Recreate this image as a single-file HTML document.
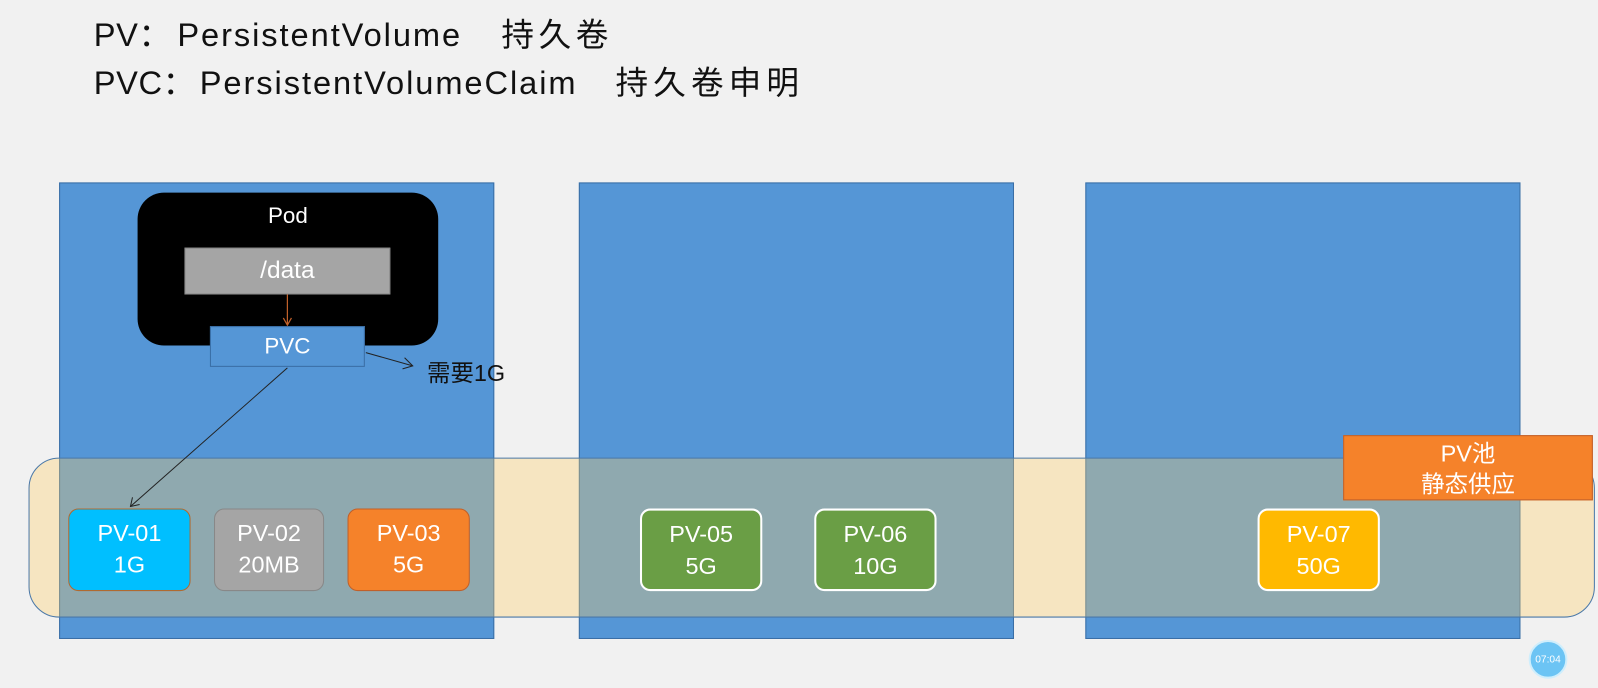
<!DOCTYPE html>
<html><head><meta charset="utf-8"><style>
body{margin:0;width:1598px;height:688px;background:#f1f1f1;position:relative;overflow:hidden;font-family:"Liberation Sans","Noto Sans CJK SC",sans-serif}
#w{position:absolute;left:0;top:0;width:1568px;height:675px;transform:scale(1.0191);transform-origin:0 0}
.a{position:absolute;box-sizing:border-box}
.blue{background:#5596d6;border:1px solid #3a6ea5;top:179px;height:448px;width:427px}
.pv{top:499px;height:81px;border-radius:10px;color:#fff;font-size:23px;line-height:31px;text-align:center;padding-top:8px}
.t{position:absolute;font-size:31px;color:#111;white-space:pre}
.h{position:absolute;font-size:32px;line-height:40px;height:40px;color:#111;white-space:pre;letter-spacing:0.6px}
</style></head><body><div id="w">
<div class="h" style="left:92px;top:14px">PV：</div>
<div class="h" style="left:174px;top:14px;letter-spacing:1.9px">PersistentVolume</div>
<div class="h" style="left:492px;top:14px;letter-spacing:4.5px">持久卷</div>
<div class="h" style="left:92px;top:61px">PVC：</div>
<div class="h" style="left:196px;top:61px;letter-spacing:1.9px">PersistentVolumeClaim</div>
<div class="h" style="left:604px;top:61px;letter-spacing:5px">持久卷申明</div>
<div class="a blue" style="left:58px"></div>
<div class="a blue" style="left:568px"></div>
<div class="a blue" style="left:1065px"></div>
<div class="a" style="left:135px;top:189px;width:295px;height:150px;background:#000;border-radius:26px;color:#fff;font-size:22px;text-align:center;padding-top:10px">Pod</div>
<div class="a" style="left:181px;top:243px;width:202px;height:46px;background:#a5a5a5;border:1px solid #888;color:#fff;font-size:24px;text-align:center;line-height:44px">/data</div>
<div class="a" style="left:206px;top:320px;width:152px;height:40px;background:#5596d6;border:1px solid #3a6ea5;color:#fff;font-size:22px;text-align:center;line-height:38px">PVC</div>
<div class="a" style="left:28px;top:449px;width:1537px;height:157px;border-radius:30px;background:rgba(254,206,100,0.34);border:1.5px solid #4a78a8"></div>
<div class="a pv" style="left:67px;width:120px;background:#00bfff;border:1.5px solid #b06a30">PV-01<br>1G</div>
<div class="a pv" style="left:210px;width:108px;background:#a5a5a5;border:1.5px solid #888">PV-02<br>20MB</div>
<div class="a pv" style="left:341px;width:120px;background:#f5822a;border:1.5px solid #c0602a">PV-03<br>5G</div>
<div class="a pv" style="left:628px;width:120px;background:#6a9e45;border:2px solid #fff">PV-05<br>5G</div>
<div class="a pv" style="left:799px;width:120px;background:#6a9e45;border:2px solid #fff">PV-06<br>10G</div>
<div class="a pv" style="left:1234px;width:120px;background:#ffb900;border:2px solid #fff">PV-07<br>50G</div>
<div class="a" style="left:1318px;top:427px;width:245px;height:64px;background:#f5822a;border:1px solid #c0602a;color:#fff;font-size:23px;line-height:30px;text-align:center;padding-top:2px">PV池<br>静态供应</div>
<div class="t" style="left:419px;top:347px;font-size:23px">需要1G</div>
<div class="a" style="left:1500px;top:628px;width:38px;height:38px;border-radius:50%;background:#6cc4f4;border:2px solid #cfeefc;color:#fff;font-size:10px;text-align:center;line-height:36px">07:04</div>
<svg class="a" style="left:0;top:0" width="1568" height="675">
<line x1="282" y1="289" x2="282" y2="319" stroke="#c0602a" stroke-width="1.2"/>
<polyline points="278,312 282,319 286,312" fill="none" stroke="#c0602a" stroke-width="1.2"/>
<line x1="282" y1="361" x2="128" y2="497" stroke="#222" stroke-width="1"/>
<polyline points="130,488 128,497 137,495" fill="none" stroke="#222" stroke-width="1"/>
<line x1="359" y1="346" x2="405" y2="359" stroke="#222" stroke-width="1"/>
<polyline points="397,351 405,359 395,362" fill="none" stroke="#222" stroke-width="1"/>
</svg>
</div></body></html>
